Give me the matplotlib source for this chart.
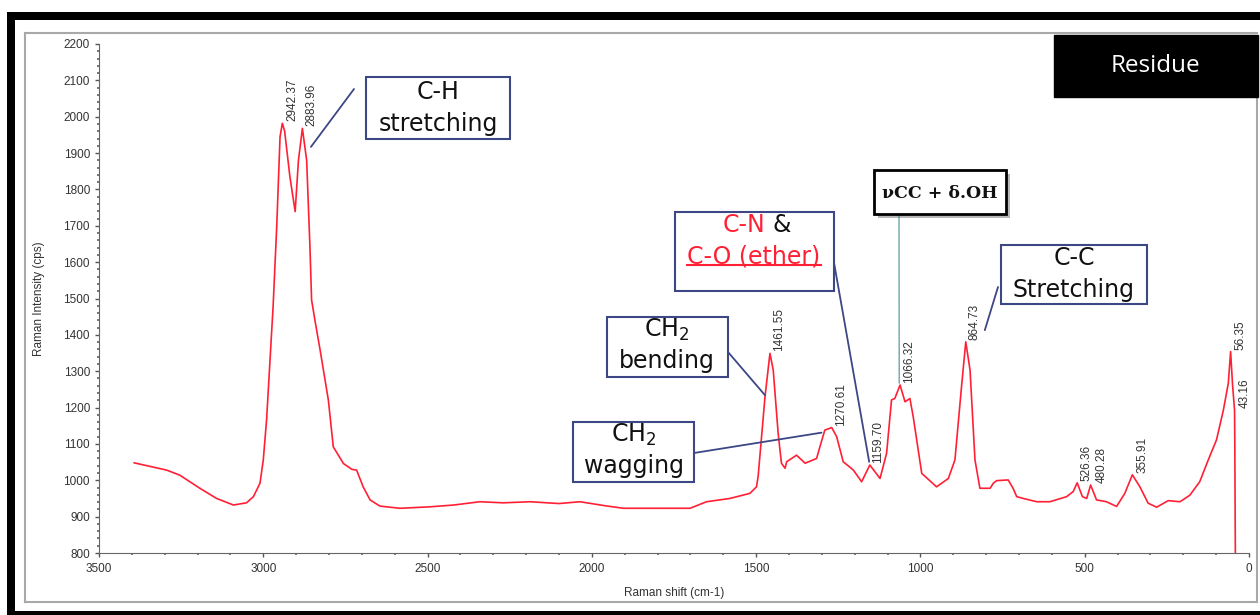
import matplotlib
matplotlib.use("Agg")
import matplotlib.pyplot as plt
from matplotlib.patches import Rectangle
from matplotlib.lines import Line2D
from matplotlib.ticker import MultipleLocator
import matplotlib.patheffects as pe

# Raman spectrum of the residue
shift = [3393, 3294, 3254, 3193, 3142, 3091, 3051, 3030, 3010, 3000, 2990,
         2970, 2959, 2949, 2942, 2935, 2919, 2903, 2893, 2881, 2868, 2858,
         2853, 2843, 2827, 2802, 2787, 2756, 2730, 2716, 2696, 2675, 2645,
         2584, 2493, 2420, 2341, 2270, 2188, 2100, 2036, 1960, 1904, 1783,
         1701, 1651, 1580, 1519, 1499, 1494, 1473, 1458, 1448, 1433, 1423,
         1412, 1407, 1377, 1351, 1316, 1306, 1291, 1270, 1255, 1235, 1204,
         1179, 1154, 1123, 1103, 1088, 1078, 1062, 1047, 1032, 1022, 996,
         951, 915, 895, 875, 862, 849, 834, 819, 788, 778, 768, 733, 718,
         707, 687, 646, 606, 555, 535, 523, 507, 494, 482, 464, 434, 403,
         378, 355, 332, 307, 281, 246, 210, 180, 150, 124, 99, 78, 63, 56,
         50, 44, 43.2, 41]
intensity = [1048, 1028, 1014, 978, 950, 932, 938, 955, 992, 1056, 1166,
             1480, 1700, 1945, 1982, 1960, 1835, 1739, 1880, 1968, 1880, 1642,
             1496, 1441, 1358, 1221, 1092, 1046, 1030, 1028, 982, 946, 929,
             923, 927, 932, 941, 938, 941, 936, 941, 930, 923, 923,
             923, 941, 950, 964, 982, 1010, 1230, 1349, 1303, 1129, 1047,
             1033, 1051, 1069, 1047, 1060, 1092, 1138, 1145, 1120, 1051, 1028,
             996, 1042, 1005, 1074, 1221, 1225, 1262, 1216, 1225, 1175, 1019,
             982, 1005, 1056, 1257, 1381, 1303, 1056, 978, 978, 992, 999, 1001, 978,
             955, 950, 941, 941, 955, 969, 993, 955, 950, 987, 946, 941, 928,
             964, 1015, 982, 937, 926, 944, 941, 959, 996, 1056, 1111, 1193, 1267, 1354,
             1262, 1193, 1100, 700]

peak_pos = [2942.37, 2883.96, 1461.55, 1270.61, 1159.70, 1066.32, 864.73,
            526.36, 480.28, 355.91, 56.35, 43.16]
peak_txt = ["2942.37", "2883.96", "1461.55", "1270.61", "1159.70", "1066.32",
            "864.73", "526.36", "480.28", "355.91", "56.35", "43.16"]

W, H = 1260, 615
NAVY = '#3d4785'
RED = '#ff2035'

plt.rcParams['font.family'] = ['Liberation Sans', 'DejaVu Sans']
plt.rcParams['mathtext.fontset'] = 'dejavusans'


def fx(x):
    return x / W


def fy(y):
    return 1 - y / H


fig = plt.figure(figsize=(12.6, 6.15), dpi=100)

ax = fig.add_axes([fx(99), fy(553), fx(1249) - fx(99), fy(44) - fy(553)])
ax.plot(shift, intensity, color=RED, lw=1.2)
ax.set_xlim(3500, 0)
ax.set_ylim(800, 2200)
ax.xaxis.set_major_locator(MultipleLocator(500))
ax.xaxis.set_minor_locator(MultipleLocator(100))
ax.yaxis.set_major_locator(MultipleLocator(100))
ax.yaxis.set_minor_locator(MultipleLocator(20))
for s in ['top', 'right']:
    ax.spines[s].set_visible(False)
for s in ['left', 'bottom']:
    ax.spines[s].set_color('#666666')
ax.tick_params(which='major', length=3, width=1, color='#555555',
               labelsize=8.5, labelcolor='#333333')
ax.tick_params(axis='x', which='major', pad=4.5)
ax.tick_params(axis='y', which='major', pad=3.5)
ax.tick_params(which='minor', length=1.2, width=1.4, color='#777777')
ax.set_xlabel('Raman shift (cm-1)', fontsize=8.5, color='#333333', labelpad=8)
ax.set_ylabel('Raman Intensity (cps)', fontsize=8.5, color='#333333', labelpad=13)

# peak labels
for p, t in zip(peak_pos, peak_txt):
    near = [v for s, v in zip(shift, intensity) if abs(s - p) <= 6]
    top = max(near)
    ax.annotate(t, xy=(p, top), xytext=(10, 2), textcoords='offset pixels',
                rotation=90, ha='center', va='bottom', fontsize=8.5,
                color='#333333')


def box(x0, y0, x1, y1, ec=NAVY, lw=1.5, fc='white', z=5):
    r = Rectangle((fx(x0), fy(y1)), fx(x1) - fx(x0), fy(y0) - fy(y1),
                  transform=fig.transFigure, fc=fc, ec=ec, lw=lw, zorder=z)
    fig.add_artist(r)
    return r


def label(x, y, s, **kw):
    kw.setdefault('fontsize', 17)
    kw.setdefault('family', 'DejaVu Sans')
    kw.setdefault('ha', 'center')
    kw.setdefault('va', 'baseline')
    kw.setdefault('color', '#111111')
    return fig.text(fx(x), fy(y), s, zorder=6, **kw)


def leader(x, y, w, v, color=NAVY, lw=1.3):
    ax.annotate('', xy=(w, v), xycoords='data',
                xytext=(fx(x), fy(y)), textcoords='figure fraction',
                arrowprops=dict(arrowstyle='-', color=color, lw=lw,
                                shrinkA=0, shrinkB=0))


# C-H stretching
box(366, 77, 510, 139)
label(438, 99, 'C-H')
label(438, 131, 'stretching')
leader(354, 89, 2855, 1917)

# CH2 bending
box(607, 317, 728, 377)
label(667, 337, 'CH$_2$')
label(667, 368, 'bending')
leader(728, 352, 1473, 1234)

# CH2 wagging
box(573, 422, 694, 482)
label(634, 442, 'CH$_2$')
label(634, 473, 'wagging')
leader(694, 453, 1301, 1131)

# C-N & C-O (ether)
box(675, 212, 834, 291)
label(765, 232, 'C-N', ha='right', color=RED)
label(772, 232, '&', ha='left')
co = label(754, 264, 'C-O (ether)', color=RED)
leader(833, 257, 1156, 1051)

# vCC + dOH
vb = box(874, 170, 1006, 214, ec='black', lw=2)
vb.set_path_effects([pe.SimplePatchShadow(offset=(3, -3), alpha=0.4),
                     pe.Normal()])
label(940, 198, 'νCC + δ.OH', fontsize=12.5, family='DejaVu Serif',
      weight='bold')
leader(899, 214, 1064.5, 1267, color='#6aa8a4', lw=1)

# C-C Stretching
box(1001, 245, 1147, 304)
label(1074, 265, 'C-C')
label(1074, 297, 'Stretching')
leader(998, 287, 804, 1413)

# Residue tag
box(1054, 35, 1258, 97, ec='black', fc='black', lw=1)
label(1155, 66, 'Residue', fontsize=17.5, family='Open Sans', color='white',
      va='center')

# screenshot frame
GRAY = '#a8a8a8'
for xs, ys in [([25, 1257], [33, 33]), ([25, 25], [33, 602]),
               ([25, 1257], [602, 602]), ([1257, 1257], [97, 602])]:
    fig.add_artist(Line2D([fx(x) for x in xs], [fy(y) for y in ys],
                          transform=fig.transFigure, color=GRAY, lw=1.5))
for x0, y0, x1, y1 in [(7, 12, 1260, 20), (7, 12, 15, 615), (7, 611, 1260, 615)]:
    box(x0, y0, x1, y1, ec='none', fc='black', lw=0, z=10)

# underline for C-O (ether)
fig.canvas.draw()
bb = co.get_window_extent()
uy = bb.y0 + 0.18 * bb.height
fig.add_artist(Line2D([bb.x0 / fig.bbox.width, bb.x1 / fig.bbox.width],
                      [uy / fig.bbox.height] * 2, transform=fig.transFigure,
                      color=RED, lw=1.5, zorder=6))

fig.savefig('out.png', dpi=100)
